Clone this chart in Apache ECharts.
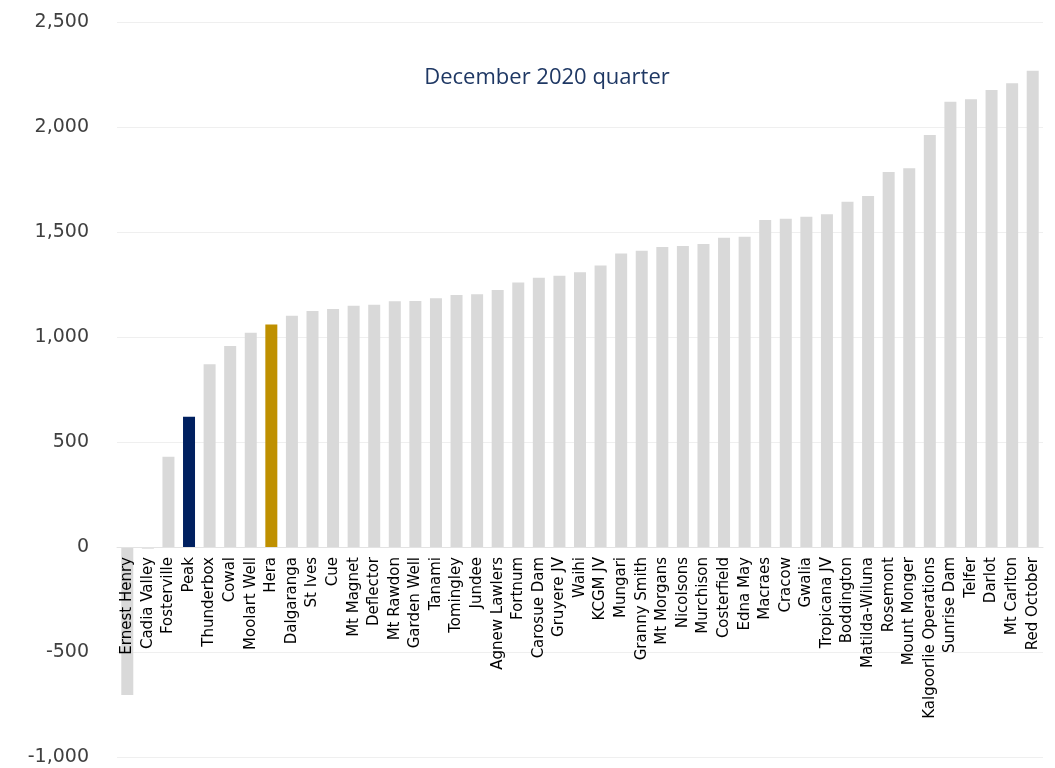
<!DOCTYPE html>
<html>
<head>
<meta charset="utf-8">
<script src="https://cdn.jsdelivr.net/npm/echarts@6/dist/echarts.min.js"></script>
<style>html,body{margin:0;padding:0;background:#fff}#c{width:1055px;height:768px}</style>
</head>
<body>
<div id="c"></div>
<script>
const categories = ["Ernest Henry","Cadia Valley","Fosterville","Peak","Thunderbox","Cowal","Moolart Well","Hera","Dalgaranga","St Ives","Cue","Mt Magnet","Deflector","Mt Rawdon","Garden Well","Tanami","Tomingley","Jundee","Agnew Lawlers","Fortnum","Carosue Dam","Gruyere JV","Waihi","KCGM JV","Mungari","Granny Smith","Mt Morgans","Nicolsons","Murchison","Costerfield","Edna May","Macraes","Cracow","Gwalia","Tropicana JV","Boddington","Matilda-Wiluna","Rosemont","Mount Monger","Kalgoorlie Operations","Sunrise Dam","Telfer","Darlot","Mt Carlton","Red October"];
const values = [-705,-8,430,620,870,957,1020,1060,1101,1124,1133,1149,1154,1170,1172,1184,1200,1203,1224,1259,1282,1292,1308,1341,1398,1411,1429,1433,1443,1473,1477,1557,1563,1573,1584,1644,1671,1786,1803,1962,2120,2132,2176,2208,2268];
const highlightColors = {"Peak":"#002060","Hera":"#BF9000"};
const defaultColor = "#D9D9D9";
const titleText = "December 2020 quarter";
const yMin = -1000, yMax = 2500, yInterval = 500;

const gridTop = 22, gridBottom = 11, H = 768;
const plotH = H - gridTop - gridBottom;
const zeroOffset = plotH * (0 - yMin) / (yMax - yMin);

const chart = echarts.init(document.getElementById('c'), null, {renderer:'canvas'});
chart.setOption({
  animation:false,
  backgroundColor:'#ffffff',
  title:{text:titleText,left:542,top:62,textAlign:'center',
    textStyle:{color:'#1F3864',fontFamily:'Open Sans',fontSize:22,fontWeight:'normal'}},
  grid:{left:117,right:12,top:gridTop,bottom:gridBottom,containLabel:false,outerBoundsMode:'none'},
  xAxis:{type:'category',data:categories,position:'bottom',offset:-zeroOffset,z:10,
    axisLine:{onZero:false,lineStyle:{color:'#E3E3E3',width:1}},
    axisTick:{show:false},
    axisLabel:{interval:0,rotate:90,margin:10,color:'#000',fontFamily:'DejaVu Sans',fontSize:15}},
  yAxis:{type:'value',min:yMin,max:yMax,interval:yInterval,
    axisLine:{show:false},axisTick:{show:false},
    splitLine:{lineStyle:{color:'#EFEFEF',width:1}},
    axisLabel:{margin:28,color:'#404040',fontFamily:'DejaVu Sans',fontSize:19,
      formatter:v=>v.toLocaleString('en-US')}},
  series:[{type:'bar',barWidth:12,z:2,
    data:values.map((v,i)=>({value:v,itemStyle:{color:highlightColors[categories[i]]||defaultColor}}))}]
});
</script>
</body>
</html>
